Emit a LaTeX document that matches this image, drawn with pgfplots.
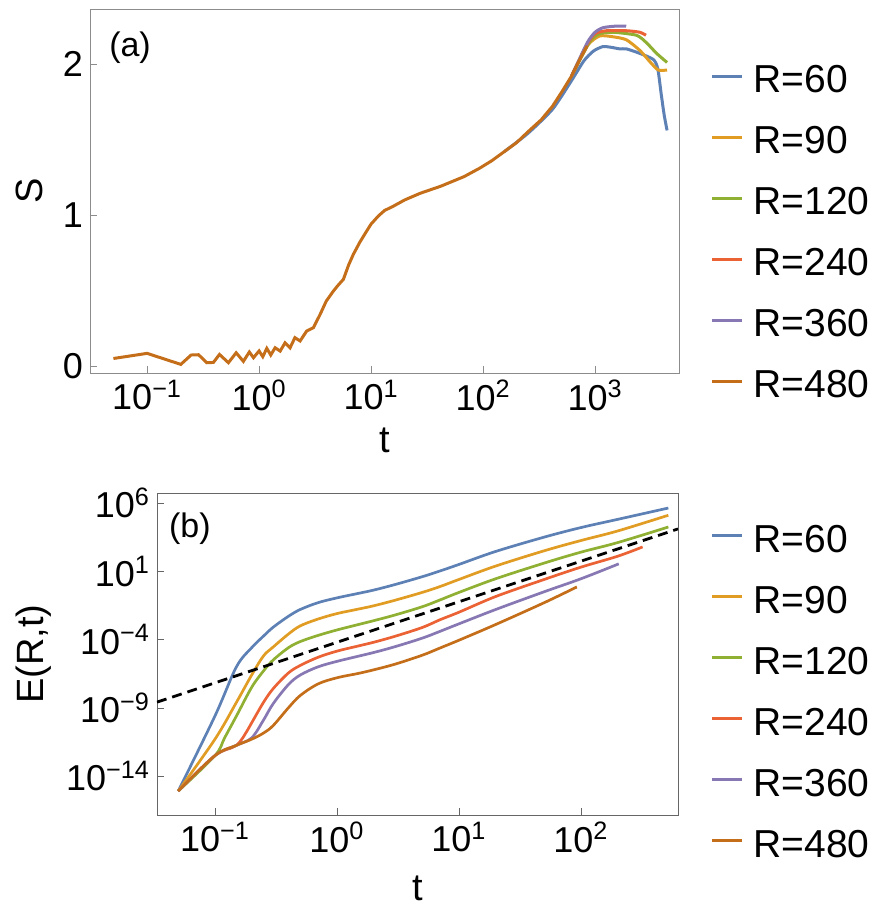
\documentclass[border=0pt]{standalone}
\usepackage{fontspec}
\setmainfont{Liberation Sans}
\usepackage{pgfplots}
\pgfplotsset{compat=1.18}

\definecolor{c1}{HTML}{5E81B5}
\definecolor{c2}{HTML}{E19C24}
\definecolor{c3}{HTML}{8FB032}
\definecolor{c4}{HTML}{EB6235}
\definecolor{c5}{HTML}{8778B3}
\definecolor{c6}{HTML}{C56E1A}

\newcommand{\tl}[1]{10\textsuperscript{#1}}

\pgfplotsset{
  panel/.style={
    scale only axis,
    xminorticks=false, yminorticks=false,
    tick align=inside, tick pos=left,
    major tick length=3.5pt,
    tick label style={font=\fontsize{18}{21}\selectfont},
    label style={font=\fontsize{19}{22}\selectfont},
    legend cell align=left,
    legend style={draw=none, fill=none, inner sep=0pt, anchor=west,
      font=\fontsize{19.5}{22}\selectfont, row sep=12.5pt, column sep=5pt,
      nodes={inner sep=0pt, text height=14pt, text depth=4pt}},
    legend image code/.code={\draw[##1, line width=1.5pt] (0pt,0.33em) -- (15pt,0.33em);},
  },
}

\begin{document}
\begin{tikzpicture}
\begin{axis}[panel,
  at={(0pt,0pt)}, anchor=south west,
  width=294.5pt, height=182pt,
  xmode=log, log basis x=10,
  xmin=0.0309, xmax=5623, ymin=-0.046, ymax=2.364,
  xtick={0.1,1,10,100,1000},
  xticklabels={\tl{−1},\tl{0},\tl{1},\tl{2},\tl{3}},
  ytick={0,1,2}, yticklabels={0,1,2},
  axis line style={black!45}, tick style={black!45},
  xlabel={t}, ylabel={S},
  xlabel style={at={(axis description cs:0.5,-0.184)}, anchor=center},
  ylabel style={at={(axis description cs:-0.102,0.5)}, anchor=center},
  legend style={at={(axis description cs:1.0526,0.378)}},
  every axis plot/.append style={line width=1.5pt},
]
\addplot[c1, smooth, tension=0.4] coordinates {
(155,1.42) (251,1.54) (417,1.70) (617,1.89) (794,2.02) (966,2.085) (1175,2.115)
(1400,2.11) (1660,2.10) (1905,2.10) (2512,2.07) (3311,2.03) (3631,1.97)
(3900,1.80) (4150,1.66) (4400,1.56)};
\addplot[c2, smooth, tension=0.4] coordinates {
(617,1.92) (851,2.12) (1096,2.185) (1445,2.18) (1905,2.16) (2512,2.09)
(3090,2.015) (3670,1.96) (4400,1.96)};
\addplot[c3, smooth, tension=0.4] coordinates {
(617,1.92) (902,2.15) (1096,2.20) (1445,2.21) (2344,2.19) (2884,2.14)
(3548,2.07) (4400,2.01)};
\addplot[c4, smooth, tension=0.4] coordinates {
(617,1.92) (851,2.13) (1000,2.20) (1259,2.22) (1905,2.22) (2512,2.21) (2850,2.19)};
\addplot[c5, smooth, tension=0.4] coordinates {
(617,1.92) (851,2.14) (1000,2.21) (1175,2.24) (1500,2.25) (1900,2.25)};
\addplot[c6] coordinates {
(0.05,0.05) (0.1,0.084) (0.2,0.011) (0.247,0.073) (0.288,0.075) (0.341,0.022)
(0.391,0.024) (0.443,0.077) (0.532,0.022) (0.624,0.088) (0.724,0.031)
(0.818,0.093) (0.891,0.055) (1.0,0.1) (1.079,0.062) (1.172,0.117) (1.271,0.073)
(1.39,0.121) (1.542,0.099) (1.706,0.154) (1.892,0.121) (2.089,0.188)
(2.323,0.166) (2.661,0.232) (3.055,0.254) (3.508,0.342) (3.98,0.43)
(4.613,0.497) (5.01,0.53) (5.66,0.574) (6.31,0.67) (6.95,0.74) (7.94,0.82)
(9.14,0.894) (10,0.94) (11.6,0.993) (13.2,1.03) (15.5,1.055) (20,1.10)
(27.5,1.144) (41.7,1.19) (67.6,1.254) (93.3,1.31) (120,1.36) (155,1.42)
(200,1.48) (251,1.55) (330,1.63) (417,1.72) (510,1.82) (617,1.92) (730,2.03)
(851,2.12)};
\legend{R=60,R=90,R=120,R=240,R=360,R=480}
\node[font=\fontsize{17}{20}\selectfont] at (axis description cs:0.068,0.893) {(a)};
\end{axis}

\begin{axis}[panel,
  at={(33.5pt,-221pt)}, anchor=south west,
  width=260.5pt, height=161pt,
  xmode=log, ymode=log, log basis x=10, log basis y=10,
  xmin=0.0335, xmax=624, ymin=1.41e-17, ymax=5.37e6,
  xtick={0.1,1,10,100},
  xticklabels={\tl{−1},\tl{0},\tl{1},\tl{2}},
  ytick={1e-14,1e-9,1e-4,10,1e6},
  yticklabels={\tl{−14},\tl{−9},\tl{−4},\tl{1},\tl{6}},
  axis line style={black!60}, tick style={black!60},
  xlabel={t}, ylabel={E(R,t)},
  xlabel style={at={(axis description cs:0.5,-0.228)}, anchor=center},
  ylabel style={at={(axis description cs:-0.236,0.5)}, anchor=center},
  legend style={at={(axis description cs:1.0614,0.373)}},
  every axis plot/.append style={line width=1.35pt, smooth, tension=0.55},
]
\addplot[c1] coordinates {
(0.05,7.94e-16) (0.1,2.51e-10) (0.15,1e-6) (0.2,2.51e-5) (0.25,1.78e-4)
(0.3,7.94e-4) (0.4,5.01e-3) (0.5,1.58e-2) (0.7,5.01e-2) (1,0.112) (1.5,0.24)
(2,0.417) (3,1.07) (5,3.98) (7,10.5) (10,31.6) (20,282) (50,3162) (100,15850)
(200,63100) (520,426600)};
\addplot[c2] coordinates {
(0.05,7.94e-16) (0.1,5.01e-12) (0.15,2.51e-9) (0.2,2.51e-7) (0.25,6.31e-6)
(0.3,2.82e-5) (0.4,2.51e-4) (0.5,1e-3) (0.7,3.16e-3) (1,7.94e-3) (1.5,1.70e-2)
(2,2.95e-2) (3,7.59e-2) (5,0.282) (7,0.759) (10,2.51) (20,24.0) (50,316)
(100,1778) (200,8913) (520,125900)};
\addplot[c3] coordinates {
(0.05,7.94e-16) (0.1,3.16e-13) (0.12,6.31e-12) (0.15,2.51e-10) (0.2,3.16e-8)
(0.25,5.01e-7) (0.3,3.16e-6) (0.4,2.51e-5) (0.5,7.08e-5) (0.7,2.0e-4)
(1,5.01e-4) (1.5,1.26e-3) (2,2.40e-3) (3,6.31e-3) (5,2.51e-2) (7,7.94e-2)
(10,0.282) (20,2.82) (50,39.8) (100,251) (200,1259) (520,17380)};
\addplot[c4] coordinates {
(0.05,7.94e-16) (0.1,3.16e-13) (0.15,1.78e-12) (0.186,2.51e-11) (0.2,7.94e-11)
(0.25,2.51e-9) (0.3,2.51e-8) (0.4,3.55e-7) (0.5,1.26e-6) (0.7,5.01e-6)
(1,1.41e-5) (1.5,3.39e-5) (2,6.31e-5) (3,1.74e-4) (5,7.59e-4) (7,2.82e-3)
(10,1e-2) (20,0.141) (50,2.51) (100,20.0) (200,126) (320,603)};
\addplot[c5] coordinates {
(0.05,7.94e-16) (0.1,3.16e-13) (0.15,1.78e-12) (0.2,6.31e-12) (0.25,1.26e-10)
(0.3,2.0e-9) (0.4,5.01e-8) (0.5,2.51e-7) (0.7,1e-6) (1,2.51e-6) (1.5,6.03e-6)
(2,1.12e-5) (3,3.02e-5) (5,1.26e-4) (7,3.98e-4) (10,1.41e-3) (20,1.58e-2)
(50,0.316) (100,2.82) (204,34.7)};
\addplot[c6] coordinates {
(0.05,7.94e-16) (0.1,3.16e-13) (0.15,1.78e-12) (0.2,5.01e-12) (0.25,1.41e-11)
(0.3,5.01e-11) (0.4,1e-9) (0.5,7.94e-9) (0.7,5.62e-8) (1,1.58e-7) (1.5,3.31e-7)
(2,6.03e-7) (3,1.58e-6) (5,7.08e-6) (7,2.4e-5) (10,8.91e-5) (20,1.26e-3)
(50,5.01e-2) (92.5,0.708)};
\addplot[black, sharp plot, dash pattern=on 5pt off 3pt, line width=1.4pt, forget plot]
  coordinates {(0.0335,2.6e-9) (624,1.26e4)};
\legend{R=60,R=90,R=120,R=240,R=360,R=480}
\node[font=\fontsize{17}{20}\selectfont] at (axis description cs:0.063,0.89) {(b)};
\end{axis}
\pgfresetboundingbox
\path[use as bounding box] (-45pt,-268pt) rectangle (395pt,186.5pt);
\end{tikzpicture}
\end{document}
